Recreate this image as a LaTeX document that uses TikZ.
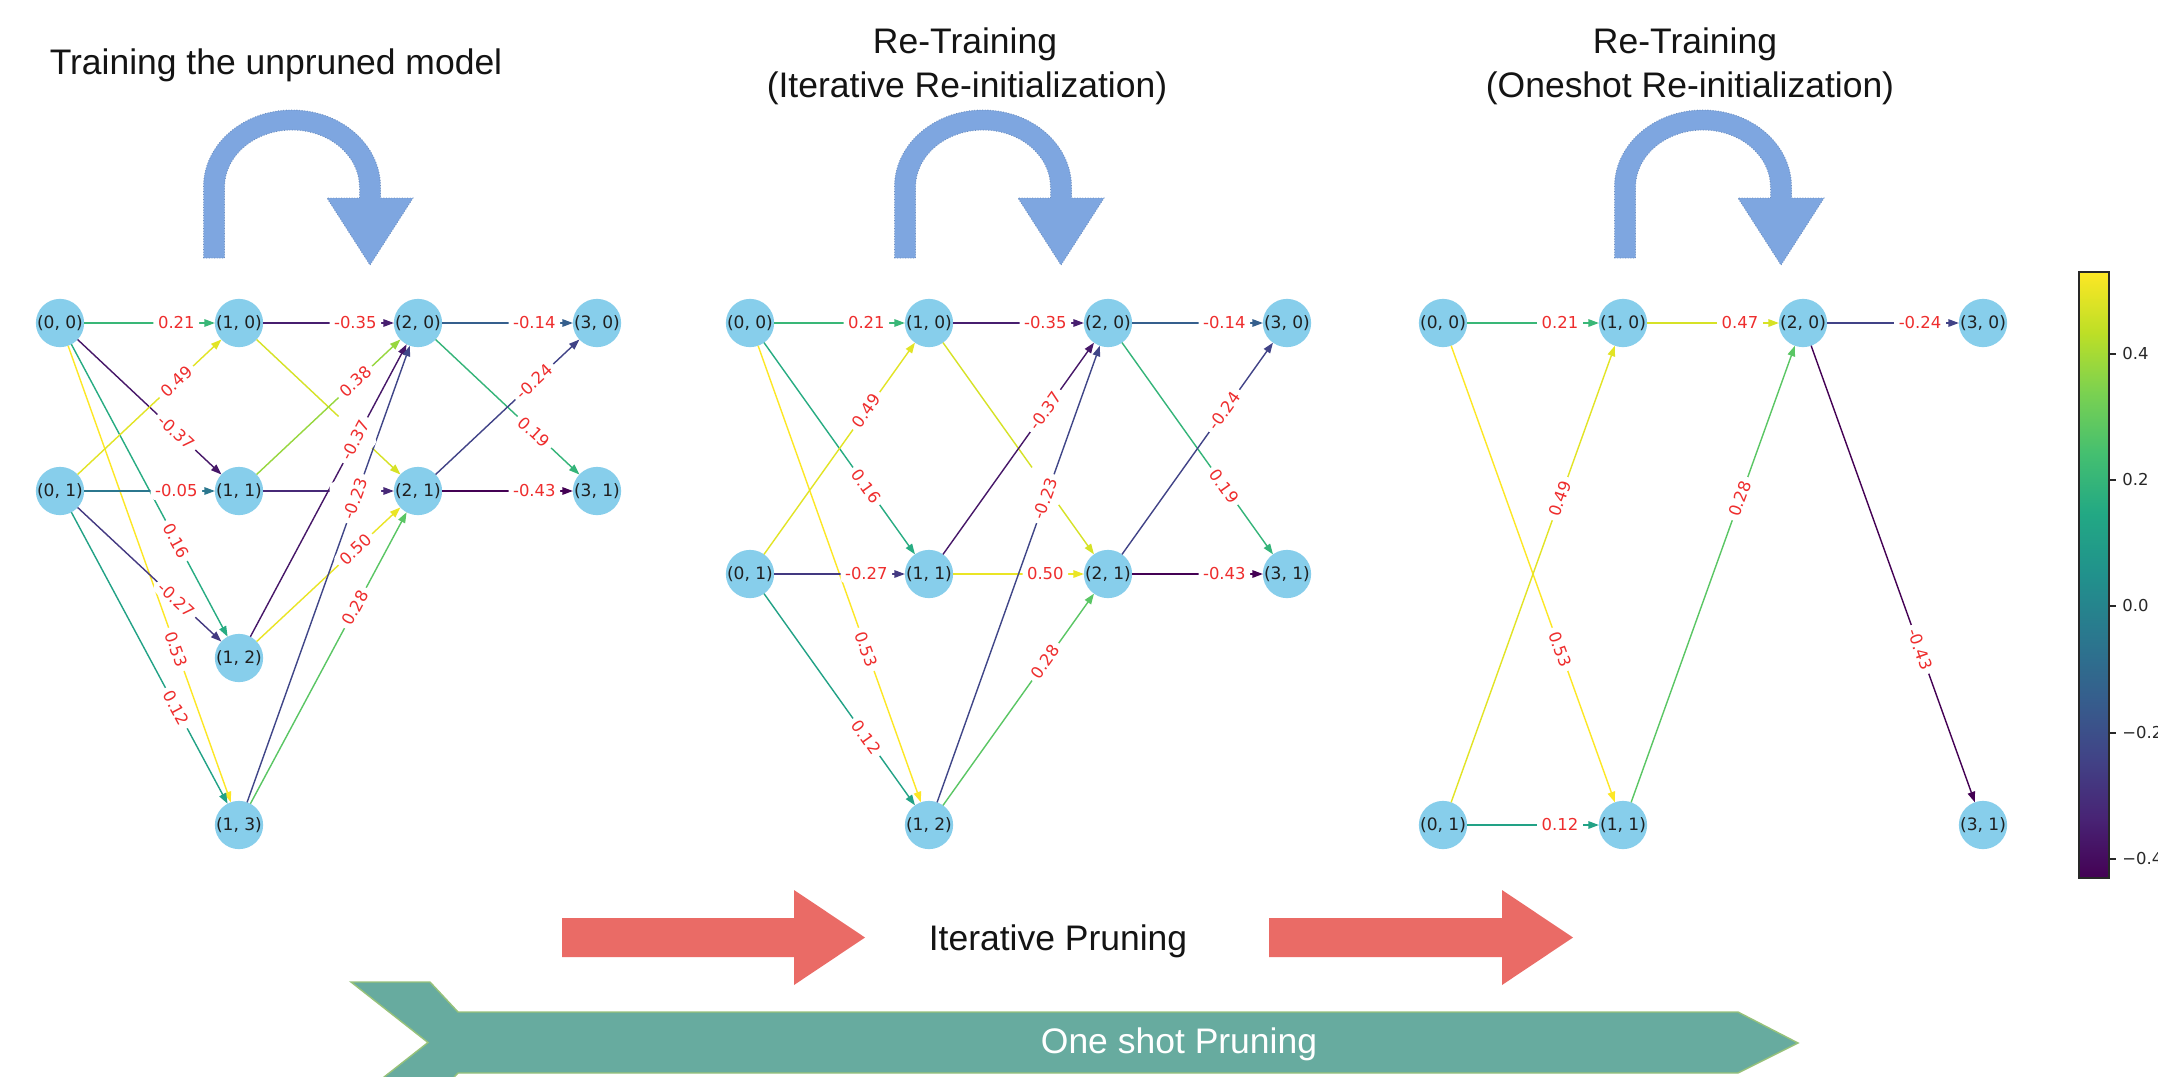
\documentclass[tikz,border=0pt]{standalone}
\usepackage{fontspec}
\setmainfont{Liberation Sans}
\newfontfamily\dejavu{DejaVu Sans}
\usetikzlibrary{arrows.meta}

\definecolor{nodeblue}{RGB}{135,206,235}
\definecolor{labred}{RGB}{238,45,45}
\definecolor{uturn}{HTML}{7EA6E0}
\definecolor{uturnedge}{HTML}{6C8EBF}
\definecolor{redarrow}{HTML}{EA6B66}
\definecolor{greenfill}{HTML}{67AB9F}
\definecolor{greenedge}{HTML}{97C27A}
\definecolor{titlecol}{RGB}{20,20,20}
\definecolor{tickcol}{RGB}{40,40,40}
% viridis weights
\definecolor{w021}{RGB}{57,183,119}
\definecolor{wm035}{RGB}{71,30,111}
\definecolor{wm014}{RGB}{53,95,141}
\definecolor{wm037}{RGB}{70,23,104}
\definecolor{w049}{RGB}{226,228,37}
\definecolor{wm005}{RGB}{43,119,142}
\definecolor{w016}{RGB}{39,172,130}
\definecolor{wm027}{RGB}{67,57,129}
\definecolor{w053}{RGB}{253,231,37}
\definecolor{w012}{RGB}{34,162,134}
\definecolor{w038}{RGB}{151,215,62}
\definecolor{wm023}{RGB}{64,70,136}
\definecolor{w050}{RGB}{234,229,37}
\definecolor{w028}{RGB}{90,198,100}
\definecolor{w019}{RGB}{52,180,121}
\definecolor{wm024}{RGB}{65,67,135}
\definecolor{wm043}{RGB}{68,1,84}
\definecolor{w047}{RGB}{214,226,38}
\definecolor{wm032}{RGB}{71,41,119}
% viridis stops
\definecolor{vA}{HTML}{440154}
\definecolor{vB}{HTML}{482475}
\definecolor{vC}{HTML}{414487}
\definecolor{vD}{HTML}{355F8D}
\definecolor{vE}{HTML}{2A788E}
\definecolor{vF}{HTML}{21918C}
\definecolor{vG}{HTML}{22A884}
\definecolor{vH}{HTML}{44BF70}
\definecolor{vI}{HTML}{7AD151}
\definecolor{vJ}{HTML}{BDDF26}
\definecolor{vK}{HTML}{FDE725}
\pgfdeclareverticalshading{viridisbar}{100bp}{color(0bp)=(vA); color(25bp)=(vA); color(30bp)=(vB); color(35bp)=(vC); color(40bp)=(vD); color(45bp)=(vE); color(50bp)=(vF); color(55bp)=(vG); color(60bp)=(vH); color(65bp)=(vI); color(70bp)=(vJ); color(75bp)=(vK); color(100bp)=(vK)}

\newcommand\ed[3]{\draw[edgeline,draw=#1] (#2) -- (#3);}
\newcommand\lb[3]{\path (#1.center) -- node[elab,pos=0.65,sloped]{#3} (#2.center);}
\newcommand\uturnarrow[1]{%
  \begin{scope}[shift={(#1,0)}]
    \filldraw[fill=uturn, draw=uturnedge, line width=0.5pt, densely dotted]
      (-88.5,258) -- (-88.5,187) arc[start angle=180, end angle=360, x radius=88.5, y radius=77]
      -- (88.5,198) -- (121,198) -- (78,265) -- (35,198) -- (67.5,198) -- (67.5,187)
      arc[start angle=0, end angle=-180, x radius=67.5, y radius=57] -- (-67.5,258) -- cycle;
  \end{scope}}

\begin{document}
\begin{tikzpicture}[x=0.02cm, y=-0.02cm,
  nn/.style={circle, fill=nodeblue, minimum size=0.96cm, inner sep=0pt, outer sep=0pt,
    font=\dejavu\fontsize{9.7}{11}\selectfont, text=black!88},
  elab/.style={fill=white, rounded corners=2.5pt, inner xsep=2.6pt, inner ysep=1.6pt,
    text=labred, font=\dejavu\fontsize{9.35}{11}\selectfont},
  edgeline/.style={line width=0.8pt, -{Triangle[length=0.21cm,width=0.15cm]}},
  ttl/.style={font=\fontsize{20.2}{24}\selectfont, text=titlecol, inner sep=0pt, anchor=base},
  cblab/.style={font=\dejavu\fontsize{9.35}{11}\selectfont, text=tickcol, inner sep=0pt, anchor=west},
  cbtick/.style={draw=tickcol, line width=0.8pt}
]
\useasboundingbox (0,0) rectangle (2158,1076);
\clip (0,0) rectangle (2158,1076);
\fill[white] (0,0) rectangle (2158,1076);

% ---------------- titles
\node[ttl] (t1) at (276,74) {Training the unpruned model};
\node[ttl] (t2a) at (965,53) {Re-Training};
\node[ttl] (t2b) at (967,97) {(Iterative Re-initialization)};
\node[ttl] (t3a) at (1685,53) {Re-Training};
\node[ttl] (t3b) at (1690,97) {(Oneshot Re-initialization)};

% ---------------- U-turn arrows
\uturnarrow{292}
\uturnarrow{983}
\uturnarrow{1703}

% ---------------- panel 1 nodes
\node[nn] (a00) at (60,323) {(0, 0)};
\node[nn] (a01) at (60,491) {(0, 1)};
\node[nn] (a10) at (239,323) {(1, 0)};
\node[nn] (a11) at (239,491) {(1, 1)};
\node[nn] (a12) at (239,658) {(1, 2)};
\node[nn] (a13) at (239,825) {(1, 3)};
\node[nn] (a20) at (418,323) {(2, 0)};
\node[nn] (a21) at (418,491) {(2, 1)};
\node[nn] (a30) at (597,323) {(3, 0)};
\node[nn] (a31) at (597,491) {(3, 1)};
% panel 2 nodes
\node[nn] (b00) at (750,323) {(0, 0)};
\node[nn] (b01) at (750,574) {(0, 1)};
\node[nn] (b10) at (929,323) {(1, 0)};
\node[nn] (b11) at (929,574) {(1, 1)};
\node[nn] (b12) at (929,825) {(1, 2)};
\node[nn] (b20) at (1108,323) {(2, 0)};
\node[nn] (b21) at (1108,574) {(2, 1)};
\node[nn] (b30) at (1287,323) {(3, 0)};
\node[nn] (b31) at (1287,574) {(3, 1)};
% panel 3 nodes
\node[nn] (c00) at (1443,323) {(0, 0)};
\node[nn] (c01) at (1443,825) {(0, 1)};
\node[nn] (c10) at (1623,323) {(1, 0)};
\node[nn] (c11) at (1623,825) {(1, 1)};
\node[nn] (c20) at (1803,323) {(2, 0)};
\node[nn] (c30) at (1983,323) {(3, 0)};
\node[nn] (c31) at (1983,825) {(3, 1)};

% ---------------- panel 1 edges
\ed{w021}{a00}{a10}
\ed{wm037}{a00}{a11}
\ed{w016}{a00}{a12}
\ed{w053}{a00}{a13}
\ed{w049}{a01}{a10}
\ed{wm005}{a01}{a11}
\ed{wm027}{a01}{a12}
\ed{w012}{a01}{a13}
\ed{wm035}{a10}{a20}
\ed{w047}{a10}{a21}
\ed{w038}{a11}{a20}
\ed{wm032}{a11}{a21}
\ed{wm037}{a12}{a20}
\ed{w050}{a12}{a21}
\ed{wm023}{a13}{a20}
\ed{w028}{a13}{a21}
\ed{wm014}{a20}{a30}
\ed{w019}{a20}{a31}
\ed{wm024}{a21}{a30}
\ed{wm043}{a21}{a31}
% panel 1 labels
\lb{a10}{a21}{\phantom{0.47}}
\lb{a11}{a21}{\phantom{-0.32}}
\lb{a00}{a10}{0.21}
\lb{a00}{a11}{-0.37}
\lb{a00}{a12}{0.16}
\lb{a00}{a13}{0.53}
\lb{a01}{a10}{0.49}
\lb{a01}{a11}{-0.05}
\lb{a01}{a12}{-0.27}
\lb{a01}{a13}{0.12}
\lb{a10}{a20}{-0.35}
\lb{a11}{a20}{0.38}
\lb{a12}{a20}{-0.37}
\lb{a12}{a21}{0.50}
\lb{a13}{a20}{-0.23}
\lb{a13}{a21}{0.28}
\lb{a20}{a30}{-0.14}
\lb{a20}{a31}{0.19}
\lb{a21}{a30}{-0.24}
\lb{a21}{a31}{-0.43}

% ---------------- panel 2 edges
\ed{w021}{b00}{b10}
\ed{w016}{b00}{b11}
\ed{w053}{b00}{b12}
\ed{w049}{b01}{b10}
\ed{wm027}{b01}{b11}
\ed{w012}{b01}{b12}
\ed{wm035}{b10}{b20}
\ed{w047}{b10}{b21}
\ed{wm037}{b11}{b20}
\ed{w050}{b11}{b21}
\ed{wm023}{b12}{b20}
\ed{w028}{b12}{b21}
\ed{wm014}{b20}{b30}
\ed{w019}{b20}{b31}
\ed{wm024}{b21}{b30}
\ed{wm043}{b21}{b31}
% panel 2 labels
\lb{b10}{b21}{\phantom{0.47}}
\lb{b00}{b10}{0.21}
\lb{b00}{b11}{0.16}
\lb{b00}{b12}{0.53}
\lb{b01}{b10}{0.49}
\lb{b01}{b11}{-0.27}
\lb{b01}{b12}{0.12}
\lb{b10}{b20}{-0.35}
\lb{b11}{b20}{-0.37}
\lb{b11}{b21}{0.50}
\lb{b12}{b20}{-0.23}
\lb{b12}{b21}{0.28}
\lb{b20}{b30}{-0.14}
\lb{b20}{b31}{0.19}
\lb{b21}{b30}{-0.24}
\lb{b21}{b31}{-0.43}

% ---------------- panel 3 edges
\ed{w021}{c00}{c10}
\ed{w053}{c00}{c11}
\ed{w049}{c01}{c10}
\ed{w012}{c01}{c11}
\ed{w047}{c10}{c20}
\ed{w028}{c11}{c20}
\ed{wm024}{c20}{c30}
\ed{wm043}{c20}{c31}
% panel 3 labels
\lb{c00}{c10}{0.21}
\lb{c00}{c11}{0.53}
\lb{c01}{c10}{0.49}
\lb{c01}{c11}{0.12}
\lb{c10}{c20}{0.47}
\lb{c11}{c20}{0.28}
\lb{c20}{c30}{-0.24}
\lb{c20}{c31}{-0.43}

% ---------------- colorbar
\shade[shading=viridisbar] (2079,272) rectangle (2109,878);
\draw[draw=tickcol, line width=0.6pt] (2079,272) rectangle (2109,878);
\draw[cbtick] (2109,354) -- (2116,354);
\draw[cbtick] (2109,480) -- (2116,480);
\draw[cbtick] (2109,606) -- (2116,606);
\draw[cbtick] (2109,733) -- (2116,733);
\draw[cbtick] (2109,859) -- (2116,859);
\node[cblab] (cb1) at (2122,354) {0.4};
\node[cblab] (cb2) at (2122,480) {0.2};
\node[cblab] (cb3) at (2122,606) {0.0};
\node[cblab] (cb4) at (2122,733) {−0.2};
\node[cblab] (cb5) at (2122,859) {−0.4};

% ---------------- bottom arrows
\fill[redarrow] (562,918) -- (794,918) -- (794,890) -- (865,937.5) -- (794,985) -- (794,957) -- (562,957) -- cycle;
\fill[redarrow] (1269,918) -- (1502,918) -- (1502,890) -- (1573,937.5) -- (1502,985) -- (1502,957) -- (1269,957) -- cycle;
\node[ttl] (ip) at (1058,950) {Iterative Pruning};

\filldraw[fill=greenfill, draw=greenedge, line width=0.8pt]
  (351,982) -- (430,982) -- (458,1012) -- (1738,1012) -- (1798,1043) -- (1738,1073)
  -- (458,1073) -- (430,1103) -- (351,1103) -- (428,1042.5) -- cycle;
\node[ttl, text=white] (osp) at (1179,1053) {One shot Pruning};
\end{tikzpicture}
\end{document}
